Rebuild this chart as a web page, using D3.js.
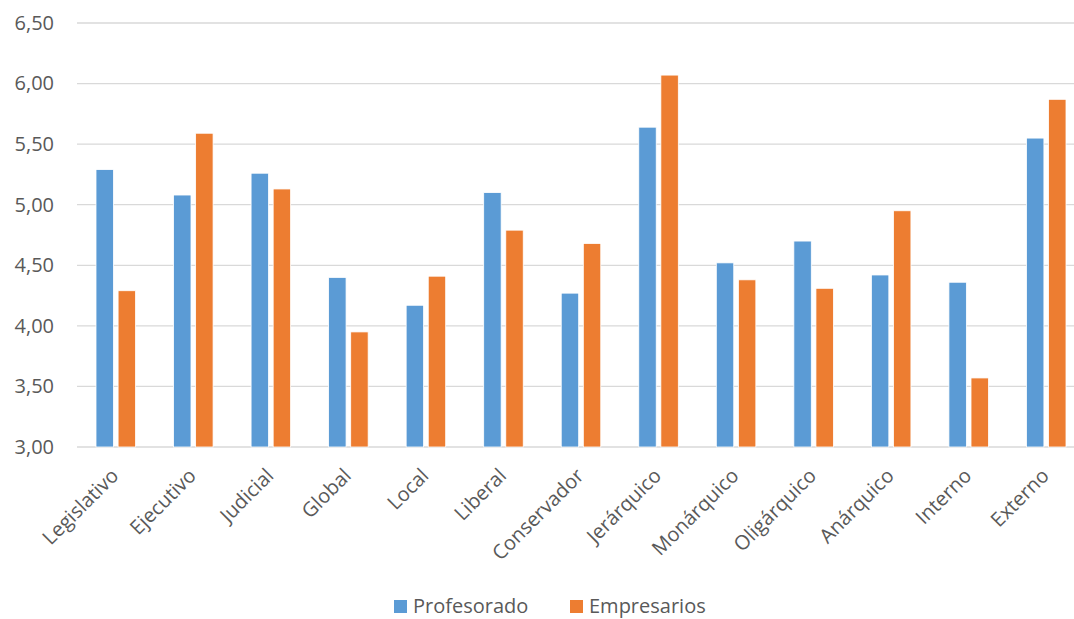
<!DOCTYPE html>
<html>
<head>
<meta charset="utf-8">
<script src="https://cdn.jsdelivr.net/npm/d3@7"></script>
<style>
  html, body { margin: 0; padding: 0; background: #fff; overflow: hidden; }
  svg { display: block; font-family: "Open Sans", sans-serif; }
</style>
</head>
<body>
<div id="chart"></div>
<script>
// data
const categories = ['Legislativo', 'Ejecutivo', 'Judicial', 'Global', 'Local', 'Liberal', 'Conservador',
  'Jerárquico', 'Monárquico', 'Oligárquico', 'Anárquico', 'Interno', 'Externo'];
const seriesNames = ['Profesorado', 'Empresarios'];
const profesorado = [5.29, 5.08, 5.26, 4.40, 4.17, 5.10, 4.27, 5.64, 4.52, 4.70, 4.42, 4.36, 5.55];
const empresarios = [4.29, 5.59, 5.13, 3.95, 4.41, 4.79, 4.68, 6.07, 4.38, 4.31, 4.95, 3.57, 5.87];
const yTicks = [3.0, 3.5, 4.0, 4.5, 5.0, 5.5, 6.0, 6.5];
const colors = ['#5B9BD5', '#ED7D31'];

const width = 1074, height = 619;
// the plot runs past the right edge of the picture, like the original
const margin = { top: 23, right: -11, bottom: 172, left: 77 };

const svg = d3.select('#chart').append('svg')
  .attr('width', width)
  .attr('height', height);

const x = d3.scaleBand()
  .domain(categories)
  .range([margin.left, width - margin.right]);

// two bars in the middle of each band, small gap between them
const x1 = d3.scaleBand()
  .domain(seriesNames)
  .range([19, x.bandwidth() - 19])
  .paddingInner(0.21);

const y = d3.scaleLinear()
  .domain([3, 6.5])
  .range([height - margin.bottom, margin.top]);

// gridlines
svg.append('g')
  .selectAll('line')
  .data(yTicks)
  .join('line')
  .attr('x1', margin.left)
  .attr('x2', width - margin.right)
  .attr('y1', d => y(d))
  .attr('y2', d => y(d))
  .attr('stroke', '#D9D9D9')
  .attr('stroke-width', 1.3);

// y axis labels
const fmt = d => d3.format('.2f')(d).replace('.', ',');
svg.append('g')
  .attr('transform', `translate(${margin.left - 23},0)`)
  .call(d3.axisLeft(y).tickValues(yTicks).tickFormat(fmt).tickSize(0).tickPadding(0))
  .call(g => g.select('.domain').remove())
  .call(g => g.selectAll('text')
    .attr('fill', '#595959')
    .attr('font-size', 20)
    .attr('font-family', '"Open Sans", sans-serif'));

// bars
const rows = categories.map((c, i) => ({ cat: c, values: [profesorado[i], empresarios[i]] }));
svg.append('g')
  .selectAll('g')
  .data(rows)
  .join('g')
  .attr('transform', d => `translate(${x(d.cat)},0)`)
  .selectAll('rect')
  .data(d => d.values.map((v, k) => ({ key: seriesNames[k], v, k })))
  .join('rect')
  .attr('x', d => x1(d.key))
  .attr('width', x1.bandwidth())
  .attr('y', d => y(d.v))
  .attr('height', d => y(3) - y(d.v))
  .attr('fill', d => colors[d.k])
  .attr('stroke', '#fff')
  .attr('stroke-width', 0.8);

// x axis labels
svg.append('g')
  .attr('transform', `translate(0,${y(3)})`)
  .call(d3.axisBottom(x).tickSize(0).tickPadding(0))
  .call(g => g.select('.domain').remove())
  .call(g => g.selectAll('text')
    .attr('fill', '#595959')
    .attr('font-size', 20)
    .attr('font-family', '"Open Sans", sans-serif')
    .attr('dy', null)
    .attr('y', 0)
    .attr('text-anchor', 'end')
    .attr('transform', 'translate(4,30) rotate(-45)'));

// legend
const legend = svg.append('g');
const legendX = [394, 570];
seriesNames.forEach((name, i) => {
  legend.append('rect')
    .attr('x', legendX[i])
    .attr('y', 600)
    .attr('width', 13)
    .attr('height', 13)
    .attr('fill', colors[i]);
  legend.append('text')
    .attr('x', legendX[i] + 19)
    .attr('y', 613)
    .attr('fill', '#595959')
    .attr('font-size', 20)
    .text(name);
});
</script>
</body>
</html>
